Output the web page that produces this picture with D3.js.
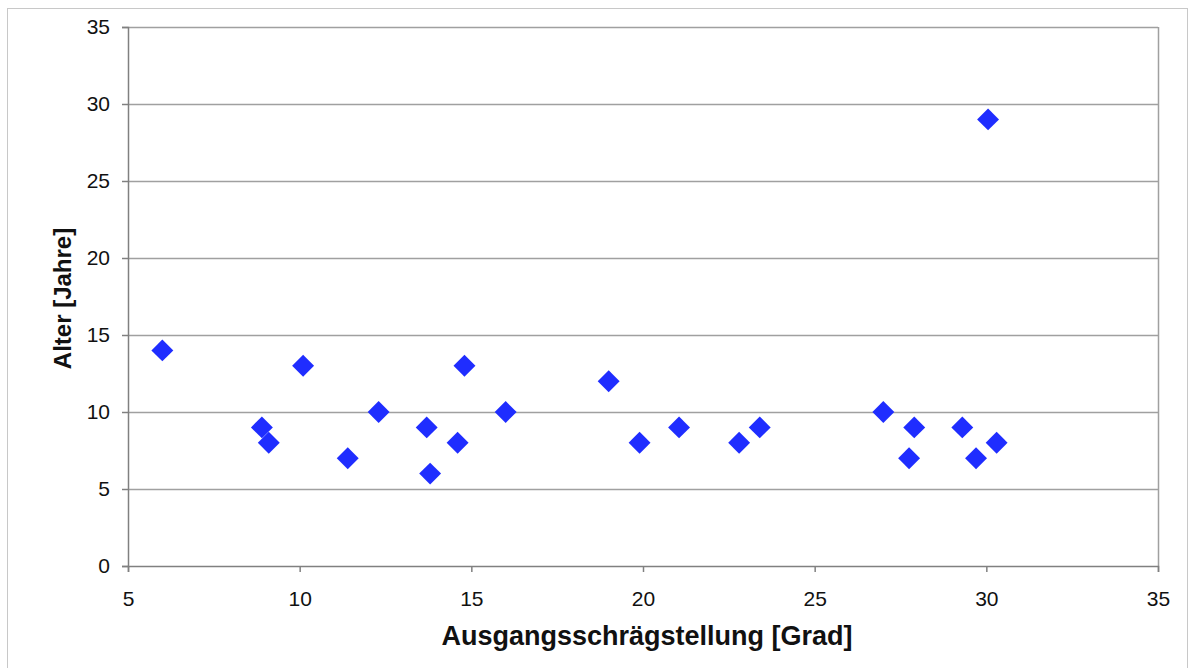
<!DOCTYPE html>
<html>
<head>
<meta charset="utf-8">
<script src="https://cdn.jsdelivr.net/npm/d3@7/dist/d3.min.js"></script>
<style>
  html, body { margin: 0; padding: 0; background: #fff; }
  svg { display: block; }
  text { font-family: "Liberation Sans", Arial, sans-serif; }
</style>
</head>
<body>
<svg id="chart" width="1190" height="668"></svg>
<script>
// Ausgangsschrägstellung (Grad) and Alter (Jahre) for each case
const schraegstellung = [6.0, 8.9, 9.1, 10.1, 11.4, 12.3, 13.7, 13.8, 14.6, 14.8, 16.0,
                         19.0, 19.9, 21.05, 22.8, 23.4, 27.0, 27.75, 27.9, 29.3, 29.7, 30.05, 30.3];
const alter          = [14, 9, 8, 13, 7, 10, 9, 6, 8, 13, 10,
                        12, 8, 9, 8, 9, 10, 7, 9, 9, 7, 29, 8];
const xTicks = [5, 10, 15, 20, 25, 30, 35];
const yTicks = [0, 5, 10, 15, 20, 25, 30, 35];
const xTitle = "Ausgangsschrägstellung [Grad]";
const yTitle = "Alter [Jahre]";

const svg = d3.select("#chart");
const plot = { left: 128, top: 27, right: 1158, bottom: 566 };

// outer chart frame
svg.append("rect")
  .attr("x", 7.5).attr("y", 8.5).attr("width", 1180).attr("height", 662)
  .attr("fill", "#fff").attr("stroke", "#c8c8c8").attr("stroke-width", 1);

const x = d3.scaleLinear().domain([5, 35]).range([plot.left, plot.right]);
const y = d3.scaleLinear().domain([0, 35]).range([plot.bottom, plot.top]);

// horizontal gridlines
svg.append("g")
  .selectAll("line")
  .data(yTicks.slice(1))
  .join("line")
  .attr("x1", plot.left).attr("x2", plot.right)
  .attr("y1", d => Math.round(y(d)) + 0.5).attr("y2", d => Math.round(y(d)) + 0.5)
  .attr("stroke", "#a0a0a0").attr("stroke-width", 1.5);

// right border of the plot area
svg.append("line")
  .attr("x1", plot.right + 0.5).attr("x2", plot.right + 0.5)
  .attr("y1", plot.top).attr("y2", plot.bottom)
  .attr("stroke", "#a0a0a0").attr("stroke-width", 1.5);

// y axis
const yAxis = svg.append("g")
  .attr("transform", `translate(${plot.left},0)`)
  .call(d3.axisLeft(y).tickValues(yTicks).tickSize(6).tickPadding(12).tickFormat(d3.format("d")));

// x axis
const xAxis = svg.append("g")
  .attr("transform", `translate(0,${plot.bottom})`)
  .call(d3.axisBottom(x).tickValues(xTicks).tickSize(6).tickPadding(19).tickFormat(d3.format("d")));

[yAxis, xAxis].forEach(g => {
  g.attr("font-family", null);
  g.select(".domain").attr("stroke", "#808080").attr("stroke-width", 1.5);
  g.selectAll(".tick line").attr("stroke", "#808080").attr("stroke-width", 1.5);
  g.selectAll(".tick text").attr("fill", "#111").style("font-size", "21px");
});

// data points as diamonds (rotated squares)
svg.append("g")
  .selectAll("path")
  .data(schraegstellung.map((v, i) => [v, alter[i]]))
  .join("path")
  .attr("d", d3.symbol().type(d3.symbolSquare).size(240))
  .attr("transform", d => `translate(${x(d[0])},${y(d[1])}) rotate(45)`)
  .attr("fill", "#1f2dff");

// axis titles
svg.append("text")
  .attr("x", (plot.left + plot.right) / 2 + 4)
  .attr("y", 645)
  .attr("text-anchor", "middle")
  .style("font-size", "27px").style("font-weight", "bold").attr("fill", "#111")
  .text(xTitle);

svg.append("text")
  .attr("transform", `translate(71,${(plot.top + plot.bottom) / 2 + 2}) rotate(-90)`)
  .attr("text-anchor", "middle")
  .style("font-size", "24px").style("font-weight", "bold").attr("fill", "#111")
  .text(yTitle);
</script>
</body>
</html>
